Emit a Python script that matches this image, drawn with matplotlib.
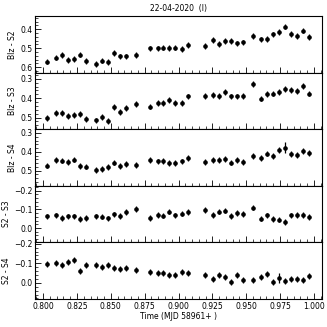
import matplotlib
matplotlib.use("Agg")
import matplotlib.pyplot as plt
from matplotlib.ticker import MultipleLocator, FormatStrFormatter

time = [0.8032, 0.8093, 0.8137, 0.8181, 0.8226, 0.8270, 0.8317, 0.8391, 0.8435, 0.8479,
        0.8525, 0.8570, 0.8614, 0.8688, 0.8786, 0.8845, 0.8887, 0.8933, 0.8977, 0.9024,
        0.9069, 0.9196, 0.9253, 0.9299, 0.9346, 0.9390, 0.9434, 0.9478, 0.9552, 0.9606,
        0.9651, 0.9695, 0.9739, 0.9783, 0.9828, 0.9872, 0.9918, 0.9963]

blz_s2 = [0.570, 0.549, 0.536, 0.563, 0.558, 0.533, 0.566, 0.582, 0.565, 0.573,
          0.526, 0.543, 0.543, 0.535, 0.501, 0.501, 0.496, 0.497, 0.496, 0.504,
          0.481, 0.488, 0.457, 0.478, 0.460, 0.460, 0.474, 0.469, 0.435, 0.453,
          0.450, 0.427, 0.414, 0.386, 0.425, 0.435, 0.407, 0.439]

blz_s3 = [0.501, 0.475, 0.478, 0.490, 0.485, 0.482, 0.508, 0.515, 0.499, 0.517,
          0.445, 0.473, 0.452, 0.428, 0.443, 0.426, 0.424, 0.409, 0.423, 0.424,
          0.391, 0.388, 0.384, 0.390, 0.367, 0.391, 0.391, 0.390, 0.325, 0.402,
          0.379, 0.376, 0.367, 0.353, 0.358, 0.362, 0.336, 0.376]

blz_s4 = [0.473, 0.444, 0.446, 0.453, 0.441, 0.474, 0.478, 0.496, 0.490, 0.481,
          0.457, 0.474, 0.465, 0.469, 0.444, 0.451, 0.448, 0.460, 0.458, 0.451,
          0.434, 0.453, 0.442, 0.442, 0.437, 0.457, 0.442, 0.455, 0.423, 0.432,
          0.409, 0.423, 0.391, 0.377, 0.412, 0.416, 0.396, 0.405]

s2_s3 = [-0.0625, -0.068, -0.054, -0.0625, -0.0625, -0.048, -0.055, -0.0625, -0.061, -0.052,
         -0.073, -0.064, -0.086, -0.102, -0.054, -0.070, -0.066, -0.0875, -0.068, -0.077,
         -0.086, -0.095, -0.070, -0.0875, -0.093, -0.064, -0.080, -0.075, -0.109, -0.050,
         -0.068, -0.048, -0.045, -0.032, -0.068, -0.070, -0.071, -0.059]

s2_s4 = [-0.098, -0.103, -0.090, -0.107, -0.117, -0.061, -0.090, -0.090, -0.081, -0.093,
         -0.074, -0.069, -0.078, -0.066, -0.057, -0.052, -0.049, -0.042, -0.040, -0.054,
         -0.052, -0.038, -0.021, -0.038, -0.028, -0.006, -0.040, -0.016, -0.016, -0.028,
         -0.045, -0.004, -0.025, -0.008, -0.018, -0.021, -0.016, -0.037]

err = [0.015] * 38
err_s4 = list(err)
err_s4[33] = 0.027
err_s24 = list(err)
err_s24[32] = 0.024

labels = ["Blz - S2", "Blz - S3", "Blz - S4", "S2 - S3", "S2 - S4"]
series = [blz_s2, blz_s3, blz_s4, s2_s3, s2_s4]
errors = [err, err, err_s4, err, err_s24]
ylims = [(0.628, 0.33), (0.56, 0.268), (0.58, 0.28), (0.077, -0.226), (0.083, -0.207)]
yticks = [[0.4, 0.5, 0.6], [0.3, 0.4, 0.5], [0.3, 0.4, 0.5], [-0.2, -0.1, 0.0], [-0.2, -0.1, 0.0]]

fig = plt.figure(figsize=(3.27, 3.27), dpi=100)
left, right = 35 / 327, 322 / 327
top, bottom = 1 - 16 / 327, 1 - 299 / 327
h = (top - bottom) / 5
axes = []
for i in range(5):
    ax = fig.add_axes([left, top - (i + 1) * h, right - left, h])
    axes.append(ax)
    ax.errorbar(time, series[i], yerr=errors[i], fmt='o', color='black',
                markersize=2.3, elinewidth=0.9, capsize=0)
    ax.set_xlim(0.794, 1.006)
    ax.set_ylim(*ylims[i])
    ax.set_yticks(yticks[i])
    ax.yaxis.set_minor_locator(MultipleLocator(0.02))
    ax.xaxis.set_major_locator(MultipleLocator(0.025))
    ax.xaxis.set_minor_locator(MultipleLocator(0.005))
    ax.tick_params(axis='both', which='both', direction='in', labelsize=5.5,
                   top=False, right=False, pad=2)
    ax.tick_params(which='major', length=4, width=0.6)
    ax.tick_params(which='minor', length=2, width=0.5)
    ax.set_ylabel(labels[i], fontsize=5.5, labelpad=2)
    for s in ax.spines.values():
        s.set_linewidth(0.8)
    if i < 4:
        ax.tick_params(labelbottom=False)
    else:
        ax.xaxis.set_major_formatter(FormatStrFormatter('%.3f'))
        ax.set_xlabel("Time (MJD 58961+ )", fontsize=5.5, labelpad=1)

fig.text((left + right) / 2, 1 - 8 / 327, "22-04-2020  (I)", ha='center', va='center', fontsize=5.5)

fig.savefig("out.png", dpi=100)
